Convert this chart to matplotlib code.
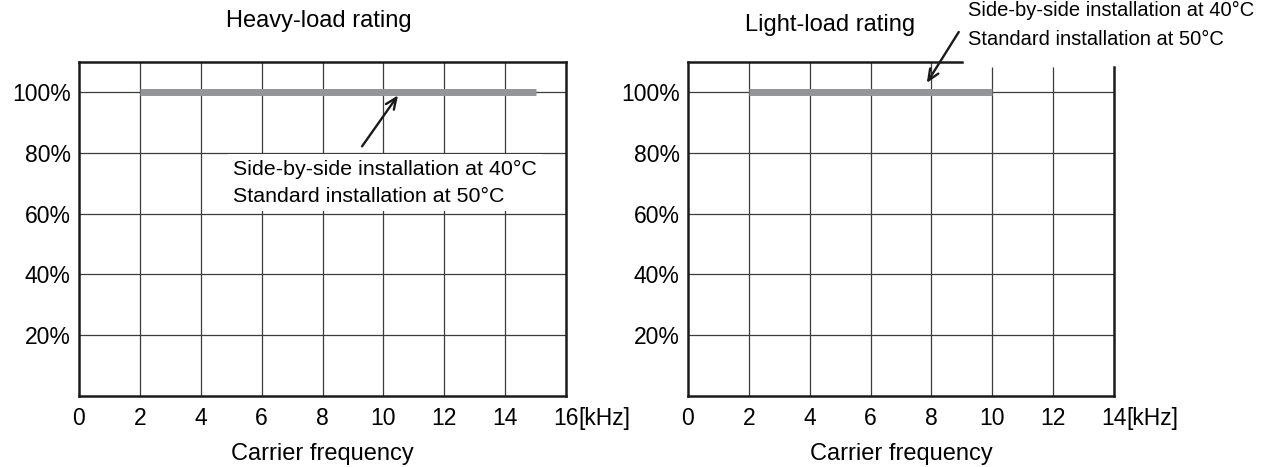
import matplotlib
matplotlib.use("Agg")
import matplotlib.pyplot as plt

plt.rcParams['font.family'] = ['Liberation Sans', 'DejaVu Sans']

# data
heavy_freq = [2, 15]
heavy_rating = [100, 100]
light_freq = [2, 10]
light_rating = [100, 100]

heavy_xticks = [0, 2, 4, 6, 8, 10, 12, 14, 16]
light_xticks = [0, 2, 4, 6, 8, 10, 12, 14]
yticks = [20, 40, 60, 80, 100]
ytick_labels = ['20%', '40%', '60%', '80%', '100%']

note = "Side-by-side installation at 40°C\nStandard installation at 50°C"

bar_color = '#939598'
grid_color = '#3c3c3c'
fs = 16.5

fig = plt.figure(figsize=(12.7, 4.67), dpi=100)
ax1 = fig.add_axes([0.0622, 0.1531, 0.3835, 0.7141])
ax2 = fig.add_axes([0.5417, 0.1531, 0.3354, 0.7141])


def setup(ax, xticks, xmax, top_end=None, grid_top=None):
    ax.set_xlim(0, xmax)
    ax.set_ylim(0, 110)
    for s in ax.spines.values():
        s.set_linewidth(1.8)
        s.set_color('#1a1a1a')
    if top_end is not None:
        ax.spines['top'].set_bounds(0, top_end)
        ax.spines['right'].set_bounds(0, grid_top)
    # grid lines
    ax.hlines(yticks, 0, xmax, color=grid_color, lw=0.9, zorder=1)
    for x in xticks[1:-1]:
        ytop = 110
        if top_end is not None and x > top_end:
            ytop = grid_top
        ax.vlines(x, 0, ytop, color=grid_color, lw=0.9, zorder=1)
    ax.set_xticks(xticks)
    ax.set_xticklabels([str(x) for x in xticks], fontsize=fs)
    ax.set_yticks(yticks)
    ax.set_yticklabels(ytick_labels, fontsize=fs)
    ax.tick_params(length=0)
    ax.tick_params(axis='x', pad=8.5)
    ax.tick_params(axis='y', pad=6)
    ax.set_xlabel('Carrier frequency', fontsize=17, labelpad=9)
    ax.annotate('[kHz]', xy=(xmax, 0), xycoords=('data', 'axes fraction'),
                xytext=(8.8, -8.5), textcoords='offset points',
                ha='left', va='top', fontsize=fs, annotation_clip=False)


setup(ax1, heavy_xticks, 16)
setup(ax2, light_xticks, 14, top_end=9.0, grid_top=108.4)

ax1.plot(heavy_freq, heavy_rating, color=bar_color, lw=5, solid_capstyle='butt', zorder=2)
ax2.plot(light_freq, light_rating, color=bar_color, lw=5, solid_capstyle='butt', zorder=2)

arrow = dict(arrowstyle='->,head_length=0.8,head_width=0.35',
             color='#1a1a1a', lw=1.7, shrinkA=0, shrinkB=0)

# annotations
ax1.text(5.06, 70.2, note, fontsize=15.4, ha='left', va='center', linespacing=1.55,
         bbox=dict(boxstyle='square,pad=0.25', fc='white', ec='none'), zorder=4)
ax1.annotate('', xy=(10.48, 99.0), xytext=(9.30, 82.2), arrowprops=arrow, zorder=5)

ax2.text(9.2, 122.2, note, fontsize=14.5, ha='left', va='center', linespacing=1.7,
         zorder=4, clip_on=False)
ax2.annotate('', xy=(7.85, 103.1), xytext=(8.9, 119.9), arrowprops=arrow,
             annotation_clip=False, zorder=5)

fig.text(319 / 1270, 1 - 21.5 / 467, 'Heavy-load rating', fontsize=17, ha='center', va='center')
fig.text(830 / 1270, 1 - 25 / 467, 'Light-load rating', fontsize=17, ha='center', va='center')

fig.savefig('out.png', dpi=100)
